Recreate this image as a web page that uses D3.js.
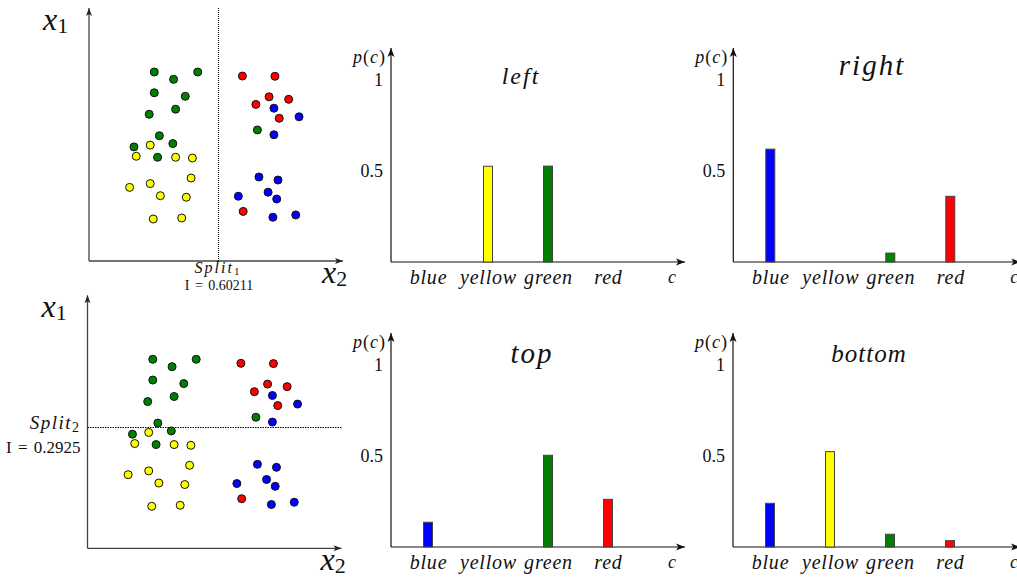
<!DOCTYPE html>
<html>
<head>
<meta charset="utf-8">
<script src="https://cdn.jsdelivr.net/npm/d3@7"></script>
<style>
    body { margin: 0; background: #fff; }
    svg { display: block; }
</style>
</head>
<body>
<div id="chart"></div>
<script>
// Classes and their colours
var classes = ["blue", "yellow", "green", "red"];
var classColors = ["#0000ff", "#ffff00", "#007f00", "#ff0000"];

// Sample points (class, x2 = horizontal feature, x1 = vertical feature)
var pointClass = [
    "green", "green", "green", "green", "green", "green", "green", "green", "green", "green", "green", "green",
    "yellow", "yellow", "yellow", "yellow", "yellow", "yellow", "yellow", "yellow", "yellow", "yellow", "yellow",
    "red", "red", "red", "red", "red", "red", "red",
    "blue", "blue", "blue", "blue", "blue", "blue", "blue", "blue", "blue", "blue"
];
var pointX2 = [
    2.57, 3.33, 4.28, 2.57, 3.79, 3.41, 2.37, 2.77, 3.30, 1.77, 2.70, 6.63,
    2.41, 1.86, 3.41, 4.07, 4.02, 2.41, 1.60, 2.81, 3.83, 2.53, 3.65,
    6.04, 7.32, 7.09, 7.86, 6.57, 7.49, 6.07,
    7.28, 8.27, 7.28, 6.69, 7.44, 7.05, 7.39, 5.88, 7.24, 8.14
];
var pointX1 = [
    7.47, 7.18, 7.47, 6.65, 6.51, 6.00, 5.80, 4.95, 4.64, 4.51, 4.10, 5.18,
    4.58, 4.14, 4.10, 4.07, 3.28, 3.06, 2.91, 2.58, 2.52, 1.66, 1.70,
    7.31, 7.30, 6.49, 6.39, 6.19, 5.64, 1.96,
    6.04, 5.70, 4.99, 3.32, 3.20, 2.72, 2.45, 2.56, 1.73, 1.82
];

// Splits and their impurity
var split1X2 = 5.08;
var split1Impurity = "I = 0.60211";
var split2X1 = 4.79;
var split2Impurity = "I = 0.2925";

// Class distributions p(c) on each side of the splits
var pLeft = [0, 0.526, 0.527, 0];
var pRight = [0.62, 0, 0.049, 0.361];
var pTop = [0.136, 0, 0.504, 0.262];
var pBottom = [0.24, 0.524, 0.07, 0.035];
var histTitles = ["left", "right", "top", "bottom"];

// Tick labels of the p(c) axis
var tickValues = [0.5, 1];
var tickLabels = ["0.5", "1"];

var serif = "'Liberation Serif', 'Times New Roman', Times, 'DejaVu Serif', serif";

var svgWidth = 1017;
var svgHeight = 578;

var svg = d3.select("#chart")
    .append("svg")
    .attr("width", svgWidth)
    .attr("height", svgHeight);

// Helpers for italic (math) and upright text
function mathText(sel) {
    return sel.attr("font-family", serif).attr("font-style", "italic").attr("fill", "#111");
}
function uprightText(sel) {
    return sel.attr("font-family", serif).attr("font-style", "normal").attr("fill", "#111");
}

// Arrow heads
var defs = svg.append("defs");
function addMarker(id, len, half, color) {
    defs.append("marker")
        .attr("id", id)
        .attr("markerUnits", "userSpaceOnUse")
        .attr("viewBox", `${-len - 1} ${-half - 1} ${len + 2} ${2 * half + 2}`)
        .attr("markerWidth", len + 2)
        .attr("markerHeight", 2 * half + 2)
        .attr("refX", 0)
        .attr("refY", 0)
        .attr("orient", "auto")
        .append("path")
        .attr("d", `M${-len},${-half} L0,0 L${-len},${half} L${-len * 0.75},0 Z`)
        .attr("fill", color);
}
addMarker("arrowS", 8, 3, "#222");
addMarker("arrowB", 9, 3.5, "#111");

var colorOf = d3.scaleOrdinal().domain(classes).range(classColors);

// Scatter plot of the samples with a split line
function drawScatter(ox, oy, mode) {
    var x = d3.scaleLinear().domain([0, 10]).range([ox, ox + 254]);
    var y = d3.scaleLinear().domain([0, 10]).range([oy, oy - 253]);
    var g = svg.append("g");

    // Axes
    g.append("line")
        .attr("x1", x(0)).attr("y1", y(0)).attr("x2", x(0)).attr("y2", y(10))
        .attr("stroke", "#444").attr("stroke-width", 1.3)
        .attr("marker-end", "url(#arrowS)");
    g.append("line")
        .attr("x1", x(0)).attr("y1", y(0)).attr("x2", x(10)).attr("y2", y(0))
        .attr("stroke", "#444").attr("stroke-width", 1.3)
        .attr("marker-end", "url(#arrowS)");

    // Split line and its labels
    if (mode === 1) {
        var sx = Math.round(x(split1X2)) + 0.5;
        g.append("line")
            .attr("x1", sx).attr("y1", y(0)).attr("x2", sx).attr("y2", y(10))
            .attr("stroke", "#000").attr("stroke-width", 1).attr("stroke-dasharray", "1,1");
        var t1 = mathText(g.append("text"))
            .attr("x", x(split1X2)).attr("y", oy + 12)
            .attr("text-anchor", "middle").attr("font-size", 16)
            .attr("letter-spacing", 2);
        t1.append("tspan").text("Split");
        uprightText(t1.append("tspan")).attr("font-size", 11).attr("dy", 2).text("1");
        uprightText(g.append("text"))
            .attr("x", x(split1X2) + 1).attr("y", oy + 29)
            .attr("text-anchor", "middle").attr("font-size", 14)
            .attr("word-spacing", 2)
            .text(split1Impurity);
    } else {
        var sy = Math.round(y(split2X1)) + 0.5;
        g.append("line")
            .attr("x1", x(0)).attr("y1", sy).attr("x2", x(10)).attr("y2", sy)
            .attr("stroke", "#000").attr("stroke-width", 1.1).attr("stroke-dasharray", "1.5,1");
        var t2 = mathText(g.append("text"))
            .attr("x", ox - 7).attr("y", y(split2X1) + 2)
            .attr("text-anchor", "end").attr("font-size", 19)
            .attr("letter-spacing", 1.5);
        t2.append("tspan").text("Split");
        uprightText(t2.append("tspan")).attr("font-size", 14).attr("dy", 3).text("2");
        uprightText(g.append("text"))
            .attr("x", ox - 7).attr("y", y(split2X1) + 26)
            .attr("text-anchor", "end").attr("font-size", 17)
            .attr("word-spacing", 2)
            .text(split2Impurity);
    }

    // Points
    g.selectAll("circle")
        .data(pointClass)
        .enter()
        .append("circle")
        .attr("cx", (d, i) => x(pointX2[i]))
        .attr("cy", (d, i) => y(pointX1[i]))
        .attr("r", 4)
        .attr("fill", d => colorOf(d))
        .attr("stroke", "#111")
        .attr("stroke-width", 1);

    // Axis names
    var xa = mathText(g.append("text"))
        .attr("x", ox - 46).attr("y", oy - 231).attr("font-size", 32);
    xa.append("tspan").text("x");
    uprightText(xa.append("tspan")).attr("font-size", 22).attr("dy", 3).text("1");
    var xb = mathText(g.append("text"))
        .attr("x", ox + 233).attr("y", oy + 22).attr("font-size", 32);
    xb.append("tspan").text("x");
    uprightText(xb.append("tspan")).attr("font-size", 22).attr("dy", 3).text("2");
}

// Bar chart of p(c)
function drawHist(ox, oy, values, title, titleX, titleY, titleSize, titleSpacing, xLen) {
    var x = d3.scalePoint().domain(classes).range([ox + 37, ox + 217]);
    var y = d3.scaleLinear().domain([0, 1]).range([oy, oy - 182]);
    var g = svg.append("g");

    // Axis lines with arrows
    g.append("line")
        .attr("x1", ox).attr("y1", oy).attr("x2", ox).attr("y2", oy - 214)
        .attr("stroke", "#111").attr("stroke-width", 1.2)
        .attr("marker-end", "url(#arrowB)");
    g.append("line")
        .attr("x1", ox).attr("y1", oy).attr("x2", ox + xLen).attr("y2", oy)
        .attr("stroke", "#111").attr("stroke-width", 1.2)
        .attr("marker-end", "url(#arrowB)");

    // Tick labels
    var yAxis = g.append("g")
        .attr("transform", `translate(${ox}, 0)`)
        .call(d3.axisLeft(y).tickValues(tickValues).tickFormat((d, i) => tickLabels[i]).tickSize(0).tickPadding(8));
    yAxis.select(".domain").remove();
    yAxis.attr("font-family", null);
    uprightText(yAxis.selectAll("text")).attr("font-size", 18);

    var xAxis = g.append("g")
        .attr("transform", `translate(0, ${oy})`)
        .call(d3.axisBottom(x).tickSize(0).tickPadding(8));
    xAxis.select(".domain").remove();
    xAxis.attr("font-family", null);
    mathText(xAxis.selectAll("text"))
        .attr("font-size", 20)
        .attr("letter-spacing", 0.8);

    // Bars
    var barData = classes.map((c, i) => ({ c: c, v: values[i], col: classColors[i] }))
        .filter(d => d.v > 0);
    g.selectAll("rect")
        .data(barData)
        .enter()
        .append("rect")
        .attr("x", d => x(d.c) - 4.5)
        .attr("y", d => y(d.v))
        .attr("width", 9)
        .attr("height", d => y(0) - y(d.v))
        .attr("fill", d => d.col)
        .attr("stroke", "#444")
        .attr("stroke-width", 1);

    // p(c) label
    var pl = mathText(g.append("text"))
        .attr("x", ox - 5).attr("y", oy - 199)
        .attr("text-anchor", "end").attr("font-size", 18)
        .attr("letter-spacing", 1);
    pl.append("tspan").text("p");
    uprightText(pl.append("tspan")).text("(");
    pl.append("tspan").text("c");
    uprightText(pl.append("tspan")).text(")");

    // c label
    mathText(g.append("text"))
        .attr("x", ox + 277).attr("y", oy + 21)
        .attr("font-size", 18)
        .text("c");

    // Title
    mathText(g.append("text"))
        .attr("x", titleX).attr("y", titleY)
        .attr("text-anchor", "middle")
        .attr("font-size", titleSize)
        .attr("letter-spacing", titleSpacing)
        .text(title);
}

drawScatter(89, 261, 1);
drawScatter(87.5, 548.3, 2);

drawHist(391, 262, pLeft, histTitles[0], 521, 84, 24, 2, 294);
drawHist(733.3, 262, pRight, histTitles[1], 872, 75, 29, 2, 287);
drawHist(391, 547, pTop, histTitles[2], 532, 363, 29, 2, 294);
drawHist(733, 547, pBottom, histTitles[3], 869, 362, 25, 1, 287);
</script>
</body>
</html>
